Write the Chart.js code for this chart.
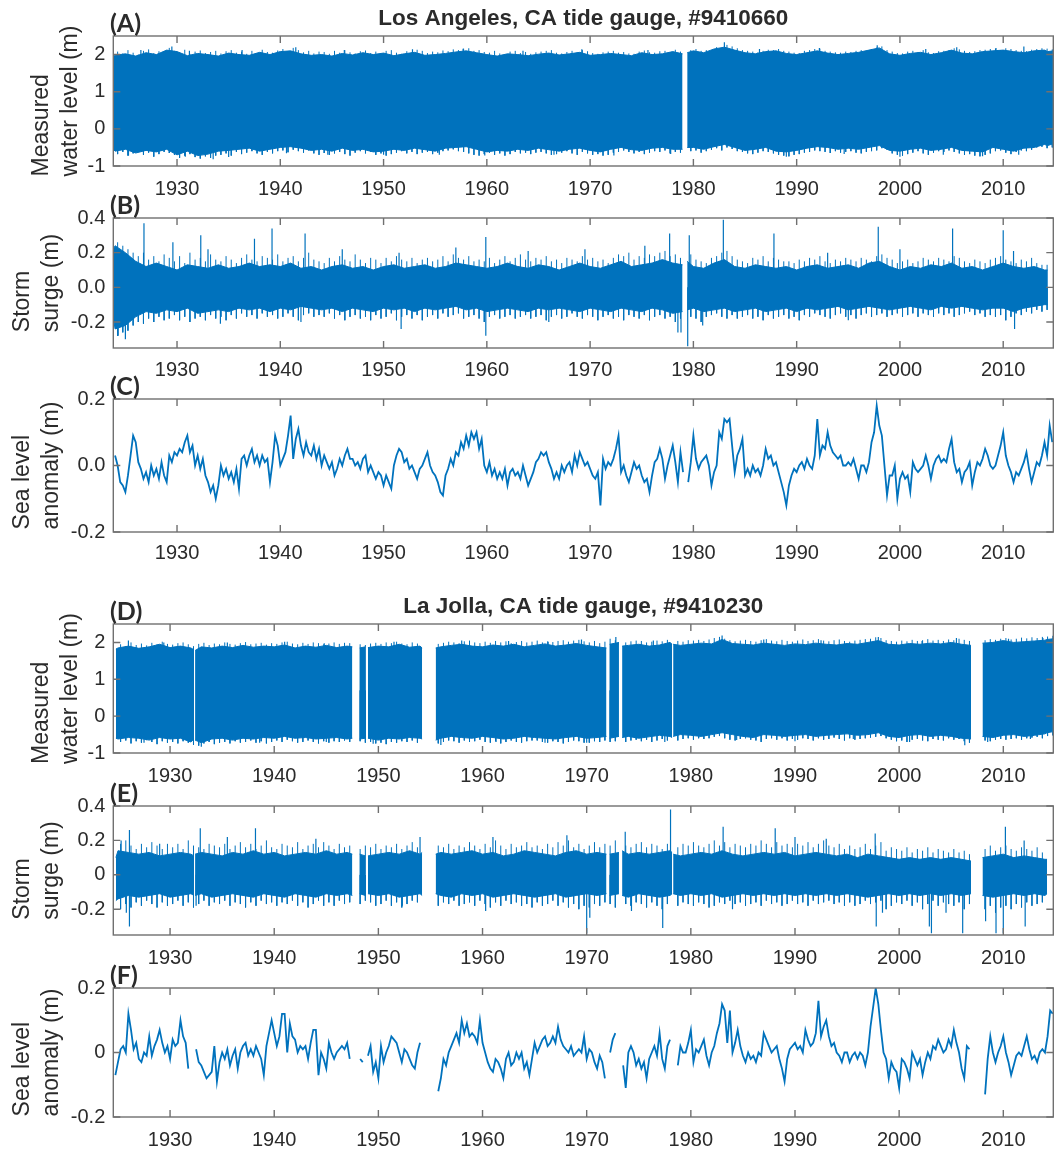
<!DOCTYPE html>
<html><head><meta charset="utf-8">
<script src="https://cdn.jsdelivr.net/npm/chart.js@4/dist/chart.umd.min.js"></script>
<style>
html,body{margin:0;padding:0;background:#fff;}
#wrap{position:relative;width:1056px;height:1153px;overflow:hidden;background:#fff;}
#wrap canvas{position:absolute;left:0;}
</style></head><body><div id="wrap"></div>
<script>
// ---------- tick labels ----------
const xTicks = [1930, 1940, 1950, 1960, 1970, 1980, 1990, 2000, 2010];
const xTickLabels = ['1930', '1940', '1950', '1960', '1970', '1980', '1990', '2000', '2010'];
const waterYTicks = [-1, 0, 1, 2];
const waterYLabels = ['-1', '0', '1', '2'];
const surgeYTicks = [-0.2, 0, 0.2, 0.4];
const laSurgeYLabels = ['-0.2', '0.0', '0.2', '0.4'];
const ljSurgeYLabels = ['-0.2', '0', '0.2', '0.4'];
const anomYTicks = [-0.2, 0, 0.2];
const laAnomYLabels = ['-0.2', '0.0', '0.2'];
const ljAnomYLabels = ['-0.2', '0', '0.2'];

function range(a, b) { const r = []; for (let y = a; y <= b; y++) r.push(y); return r; }

// ---------- Los Angeles: dense record envelopes (upper / lower), yearly ----------
const laDenseT = [1923.85, ...range(1924, 1978), 1978.95, 1979.0, 1979.4, ...range(1980, 2014), 2014.3, 2014.85];
const laWaterHi = [1.95,
  1.98, 2.02, 1.96, 2.05, 2.0, 2.12, 2.08, 1.97, 2.03, 2.0,
  1.96, 2.04, 2.0, 1.98, 2.06, 2.0, 2.08, 2.1, 2.02, 1.98,
  2.0, 1.96, 2.03, 1.99, 2.05, 2.0, 2.04, 1.97, 2.02, 2.06,
  1.98, 2.0, 2.03, 2.07, 2.1, 2.05, 2.0, 1.96, 2.02, 2.0,
  1.97, 2.01, 2.04, 1.99, 2.02, 2.06, 1.98, 2.0, 2.03, 2.0,
  1.97, 2.05, 2.0, 2.02, 2.08,
  2.02, null, 2.05,
  2.1, 2.05, 2.15, 2.2, 2.12, 2.05, 2.02, 2.08, 2.1, 2.03,
  2.0, 2.05, 2.1, 2.04, 2.0, 2.03, 2.06, 2.12, 2.18, 2.02,
  1.98, 2.03, 2.06, 2.0, 2.05, 2.12, 2.04, 2.02, 2.08, 2.1,
  2.12, 2.08, 2.05, 2.1, 2.12,
  2.08, 2.1];
const laWaterLo = [-0.55,
  -0.6, -0.55, -0.65, -0.58, -0.62, -0.55, -0.7, -0.6, -0.72, -0.68,
  -0.6, -0.58, -0.55, -0.52, -0.6, -0.55, -0.5, -0.48, -0.52, -0.58,
  -0.55, -0.6, -0.52, -0.58, -0.55, -0.62, -0.6, -0.55, -0.58, -0.52,
  -0.56, -0.6, -0.52, -0.5, -0.48, -0.55, -0.62, -0.58, -0.6, -0.55,
  -0.58, -0.52, -0.56, -0.6, -0.55, -0.52, -0.58, -0.62, -0.55, -0.5,
  -0.56, -0.58, -0.52, -0.5, -0.55,
  -0.55, null, -0.5,
  -0.5, -0.55, -0.48, -0.42, -0.5, -0.58, -0.55, -0.5, -0.6, -0.62,
  -0.58, -0.52, -0.48, -0.5, -0.55, -0.52, -0.55, -0.5, -0.45, -0.58,
  -0.6, -0.55, -0.52, -0.58, -0.55, -0.5, -0.58, -0.6, -0.62, -0.5,
  -0.55, -0.6, -0.52, -0.5, -0.42,
  -0.45, -0.4];
const laWaterPeakT = [1926.5, 1929.5, 1931.2, 1936.3, 1941.5, 1946.2, 1952.8, 1957.7, 1963.5, 1969.2, 1975.6, 1983.0, 1986.4, 1992.2, 1997.8, 2002.5, 2005.5, 2009.3, 2012.0];
const laWaterPeakV = [2.12, 2.22, 2.1, 2.12, 2.2, 2.12, 2.14, 2.16, 2.1, 2.14, 2.12, 2.33, 2.15, 2.18, 2.25, 2.15, 2.2, 2.18, 2.22];
const laWaterDipT = [1925.3, 1930.8, 1933.5, 1935.0, 1940.6, 1944.6, 1950.0, 1955.4, 1959.8, 1966.5, 1972.3, 1977.8, 1989.0, 1994.6, 2000.0, 2004.2, 2008.0, 2011.5];
const laWaterDipV = [-0.72, -0.75, -0.82, -0.76, -0.66, -0.7, -0.7, -0.7, -0.72, -0.7, -0.72, -0.68, -0.75, -0.68, -0.75, -0.7, -0.74, -0.7];

// hair tips along the band edges, every half year from 1924.25
const laHairStart = 1924.25;
const laWaterHairHi = [
  2.08, 2.03, 2.12, 2.05, 2.0, 2.1, 2.14, 2.04, 2.09, 2.02,
  2.18, 2.1, 2.06, 2.13, 2.02, 2.08, 2.11, 2.04, 2.07, 2.1,
  2.03, 2.09, 2.12, 2.05, 2.08, 2.02, 2.1, 2.04, 2.13, 2.07,
  2.05, 2.11, 2.15, 2.08, 2.18, 2.12, 2.06, 2.1, 2.03, 2.08,
  2.07, 2.02, 2.1, 2.05, 2.12, 2.06, 2.03, 2.09, 2.11, 2.04,
  2.08, 2.03, 2.1, 2.12, 2.05, 2.02, 2.09, 2.06, 2.13, 2.1,
  2.04, 2.08, 2.06, 2.11, 2.09, 2.14, 2.12, 2.16, 2.17, 2.1,
  2.12, 2.07, 2.05, 2.1, 2.03, 2.01, 2.08, 2.1, 2.04, 2.07,
  2.02, 2.06, 2.08, 2.1, 2.12, 2.05, 2.03, 2.07, 2.1, 2.06,
  2.12, 2.09, 2.04, 2.02, 2.06, 2.08, 2.1, 2.05, 2.07, 2.03,
  2.02, 2.08, 2.11, 2.06, 2.05, 2.09, 2.1, 2.07, 2.13, 2.08,
  null, 2.12, 2.15, 2.1, 2.12, 2.08, 2.2, 2.16, 2.26, 2.22,
  2.17, 2.12, 2.1, 2.08, 2.06, 2.1, 2.13, 2.12, 2.15, 2.1,
  2.08, 2.05, 2.04, 2.1, 2.12, 2.15, 2.16, 2.1, 2.08, 2.06,
  2.05, 2.08, 2.07, 2.1, 2.12, 2.08, 2.15, 2.19, 2.22, 2.12,
  2.08, 2.04, 2.03, 2.08, 2.1, 2.07, 2.12, 2.06, 2.04, 2.09,
  2.1, 2.12, 2.17, 2.14, 2.1, 2.07, 2.09, 2.12, 2.13, 2.15,
  2.16, 2.12, 2.17, 2.15, 2.12, 2.1, 2.09, 2.13, 2.15, 2.17,
  2.16, 2.14];
const laWaterHairLo = [
  -0.68, -0.62, -0.72, -0.66, -0.6, -0.7, -0.64, -0.75, -0.68, -0.62,
  -0.65, -0.7, -0.78, -0.72, -0.68, -0.76, -0.8, -0.74, -0.78, -0.72,
  -0.7, -0.66, -0.72, -0.62, -0.68, -0.64, -0.6, -0.66, -0.7, -0.62,
  -0.66, -0.6, -0.58, -0.63, -0.56, -0.6, -0.64, -0.58, -0.66, -0.7,
  -0.65, -0.7, -0.66, -0.62, -0.68, -0.72, -0.64, -0.6, -0.66, -0.62,
  -0.7, -0.66, -0.72, -0.68, -0.64, -0.6, -0.66, -0.62, -0.68, -0.64,
  -0.62, -0.68, -0.64, -0.6, -0.58, -0.55, -0.6, -0.62, -0.66, -0.7,
  -0.72, -0.68, -0.64, -0.7, -0.66, -0.72, -0.68, -0.62, -0.66, -0.64,
  -0.68, -0.64, -0.62, -0.66, -0.7, -0.68, -0.64, -0.6, -0.66, -0.7,
  -0.62, -0.66, -0.7, -0.68, -0.72, -0.7, -0.64, -0.62, -0.58, -0.62,
  -0.66, -0.62, -0.68, -0.64, -0.6, -0.62, -0.58, -0.66, -0.62, -0.64,
  null, -0.6, -0.58, -0.64, -0.6, -0.56, -0.52, -0.58, -0.5, -0.54,
  -0.6, -0.62, -0.66, -0.68, -0.64, -0.6, -0.62, -0.66, -0.7, -0.72,
  -0.74, -0.7, -0.68, -0.64, -0.62, -0.58, -0.6, -0.62, -0.65, -0.6,
  -0.64, -0.62, -0.6, -0.64, -0.66, -0.62, -0.6, -0.58, -0.52, -0.56,
  -0.66, -0.7, -0.72, -0.68, -0.64, -0.6, -0.66, -0.7, -0.64, -0.6,
  -0.62, -0.58, -0.62, -0.66, -0.7, -0.68, -0.72, -0.74, -0.7, -0.66,
  -0.6, -0.58, -0.64, -0.68, -0.62, -0.58, -0.6, -0.56, -0.5, -0.48,
  -0.52, -0.5];

const laSurgeHi = [0.22,
  0.24, 0.2, 0.15, 0.12, 0.14, 0.12, 0.1, 0.13, 0.12, 0.11,
  0.13, 0.11, 0.12, 0.14, 0.12, 0.13, 0.12, 0.14, 0.11, 0.12,
  0.1, 0.12, 0.13, 0.11, 0.12, 0.1, 0.12, 0.13, 0.11, 0.12,
  0.13, 0.11, 0.12, 0.14, 0.13, 0.12, 0.11, 0.12, 0.14, 0.12,
  0.11, 0.13, 0.12, 0.1, 0.12, 0.14, 0.12, 0.11, 0.13, 0.15,
  0.12, 0.13, 0.14, 0.16, 0.14,
  0.13, null, 0.15,
  0.12, 0.11, 0.14, 0.16, 0.12, 0.11, 0.13, 0.12, 0.11, 0.12,
  0.1, 0.12, 0.13, 0.11, 0.12, 0.13, 0.11, 0.14, 0.15, 0.12,
  0.1, 0.12, 0.11, 0.13, 0.12, 0.14, 0.11, 0.12, 0.1, 0.12,
  0.14, 0.12, 0.11, 0.12, 0.1,
  0.1, null];
const laSurgeLo = [-0.18,
  -0.24, -0.22, -0.17, -0.14, -0.15, -0.13, -0.14, -0.12, -0.15, -0.14,
  -0.13, -0.14, -0.12, -0.13, -0.12, -0.14, -0.12, -0.13, -0.11, -0.12,
  -0.13, -0.12, -0.14, -0.12, -0.13, -0.14, -0.12, -0.13, -0.12, -0.14,
  -0.12, -0.13, -0.12, -0.11, -0.13, -0.12, -0.14, -0.13, -0.12, -0.13,
  -0.14, -0.12, -0.13, -0.12, -0.13, -0.14, -0.12, -0.13, -0.14, -0.12,
  -0.13, -0.14, -0.12, -0.13, -0.15,
  -0.14, null, -0.13,
  -0.12, -0.14, -0.13, -0.12, -0.14, -0.13, -0.12, -0.14, -0.13, -0.12,
  -0.14, -0.12, -0.13, -0.12, -0.11, -0.13, -0.12, -0.11, -0.12, -0.13,
  -0.12, -0.11, -0.12, -0.13, -0.11, -0.12, -0.11, -0.12, -0.13, -0.12,
  -0.12, -0.14, -0.12, -0.11, -0.1,
  -0.1, null];
const laSurgePeakT = [1926.8, 1929.6, 1932.3, 1933.0, 1937.5, 1939.2, 1942.4, 1946.0, 1951.5, 1957.0, 1959.9, 1964.0, 1969.5, 1975.3, 1977.7, 1979.6, 1982.9, 1987.8, 1993.0, 1997.9, 2000.0, 2005.1, 2010.0, 2011.0];
const laSurgePeakV = [0.37, 0.26, 0.3, 0.22, 0.28, 0.34, 0.31, 0.22, 0.2, 0.23, 0.29, 0.21, 0.22, 0.24, 0.31, 0.3, 0.39, 0.31, 0.2, 0.35, 0.22, 0.34, 0.33, 0.21];
const laSurgeDipT = [1924.3, 1925.0, 1934.2, 1942.0, 1951.7, 1959.9, 1966.0, 1978.5, 1978.8, 1979.45, 1980.9, 1995.0, 2011.1];
const laSurgeDipV = [-0.28, -0.3, -0.21, -0.2, -0.24, -0.28, -0.2, -0.26, -0.26, -0.34, -0.22, -0.19, -0.24];
const laSurgeHairHi = [
  0.26, 0.24, 0.22, 0.2, 0.18, 0.2, 0.16, 0.18, 0.15, 0.19,
  0.17, 0.15, 0.18, 0.14, 0.2, 0.16, 0.17, 0.15, 0.19, 0.16,
  0.15, 0.18, 0.16, 0.14, 0.17, 0.19, 0.16, 0.15, 0.18, 0.17,
  0.16, 0.19, 0.15, 0.17, 0.18, 0.15, 0.17, 0.2, 0.16, 0.15,
  0.14, 0.17, 0.15, 0.18, 0.16, 0.15, 0.19, 0.16, 0.14, 0.17,
  0.16, 0.14, 0.17, 0.15, 0.18, 0.16, 0.15, 0.17, 0.14, 0.16,
  0.17, 0.15, 0.16, 0.18, 0.15, 0.19, 0.17, 0.16, 0.18, 0.15,
  0.16, 0.15, 0.17, 0.14, 0.16, 0.18, 0.15, 0.17, 0.19, 0.16,
  0.15, 0.17, 0.16, 0.18, 0.15, 0.16, 0.14, 0.17, 0.16, 0.15,
  0.18, 0.16, 0.17, 0.15, 0.16, 0.14, 0.17, 0.19, 0.18, 0.2,
  0.16, 0.18, 0.17, 0.19, 0.18, 0.2, 0.21, 0.18, 0.19, 0.17,
  null, 0.19, 0.16, 0.15, 0.14, 0.17, 0.18, 0.2, 0.21, 0.18,
  0.16, 0.15, 0.14, 0.17, 0.16, 0.18, 0.15, 0.17, 0.16, 0.15,
  0.15, 0.14, 0.16, 0.15, 0.17, 0.16, 0.18, 0.15, 0.14, 0.16,
  0.15, 0.17, 0.16, 0.15, 0.17, 0.16, 0.15, 0.18, 0.19, 0.17,
  0.16, 0.14, 0.15, 0.16, 0.14, 0.15, 0.17, 0.16, 0.15, 0.17,
  0.16, 0.15, 0.18, 0.17, 0.15, 0.14, 0.16, 0.15, 0.14, 0.16,
  0.17, 0.18, 0.16, 0.15, 0.14, 0.16, 0.15, 0.17, 0.14, 0.13,
  0.13, null];
const laSurgeHairLo = [
  -0.28, -0.26, -0.25, -0.22, -0.2, -0.21, -0.18, -0.2, -0.17, -0.19,
  -0.18, -0.16, -0.19, -0.17, -0.2, -0.18, -0.17, -0.19, -0.16, -0.18,
  -0.17, -0.19, -0.16, -0.18, -0.15, -0.17, -0.16, -0.18, -0.15, -0.17,
  -0.16, -0.18, -0.17, -0.15, -0.17, -0.19, -0.16, -0.15, -0.17, -0.16,
  -0.17, -0.15, -0.18, -0.16, -0.19, -0.17, -0.16, -0.18, -0.17, -0.19,
  -0.16, -0.18, -0.17, -0.15, -0.19, -0.17, -0.16, -0.18, -0.16, -0.19,
  -0.17, -0.16, -0.18, -0.15, -0.17, -0.16, -0.15, -0.18, -0.17, -0.16,
  -0.18, -0.2, -0.17, -0.16, -0.18, -0.17, -0.16, -0.18, -0.17, -0.16,
  -0.18, -0.17, -0.16, -0.19, -0.17, -0.16, -0.18, -0.17, -0.15, -0.17,
  -0.18, -0.16, -0.17, -0.19, -0.17, -0.16, -0.18, -0.17, -0.19, -0.16,
  -0.17, -0.18, -0.16, -0.19, -0.17, -0.16, -0.18, -0.17, -0.2, -0.18,
  null, -0.17, -0.18, -0.2, -0.17, -0.16, -0.15, -0.17, -0.18, -0.16,
  -0.18, -0.17, -0.16, -0.18, -0.17, -0.19, -0.16, -0.18, -0.17, -0.16,
  -0.18, -0.17, -0.19, -0.16, -0.17, -0.15, -0.16, -0.17, -0.18, -0.16,
  -0.15, -0.17, -0.16, -0.18, -0.16, -0.15, -0.17, -0.16, -0.15, -0.17,
  -0.16, -0.15, -0.17, -0.16, -0.15, -0.17, -0.15, -0.16, -0.17, -0.15,
  -0.16, -0.15, -0.17, -0.16, -0.15, -0.14, -0.16, -0.15, -0.17, -0.16,
  -0.17, -0.16, -0.19, -0.17, -0.15, -0.16, -0.14, -0.15, -0.13, -0.14,
  -0.13, null];

// ---------- Los Angeles: sea level anomaly, quarterly from 1924.0 ----------
const anomStep = 0.25;
const laAnomStart = 1924.0;
const laAnom = [
  0.03, 0.0, -0.05, -0.06,   -0.08, -0.03, 0.03, 0.09,   0.07, 0.01, -0.01, -0.04,   -0.02, -0.05, 0.0, -0.03,
  -0.01, -0.04, 0.01, -0.03, -0.05, 0.03, 0.01, 0.04,    0.03, 0.05, 0.04, 0.07,     0.09, 0.04, 0.06, 0.0,
  0.03, -0.01, 0.02, -0.03,  -0.05, -0.08, -0.06, -0.1,  -0.06, 0.0, -0.03, -0.01,   -0.04, -0.02, -0.05, -0.01,
  -0.07, 0.02, 0.03, 0.0,    0.03, 0.05, 0.01, 0.03,     0.0, 0.03, 0.01, 0.02,      -0.05, 0.01, 0.09, 0.06,
  0.0, 0.02, 0.04, 0.09,     0.15, 0.02, 0.08, 0.11,     0.06, 0.03, 0.07, 0.04,     0.03, 0.06, 0.02, 0.05,
  0.0, 0.03, 0.01, -0.01,    0.01, -0.03, -0.01, 0.02,   0.0, 0.03, 0.05, 0.02,      0.02, 0.0, 0.01, -0.01,
  0.02, 0.03, -0.02, 0.0,    -0.02, -0.04, -0.02, -0.03, -0.06, -0.03, -0.05, -0.07, 0.0, 0.03, 0.05, 0.04,
  0.01, 0.02, -0.01, 0.0,    -0.02, -0.04, -0.01, 0.0,   0.02, 0.04, 0.0, -0.02,     -0.03, -0.05, -0.08, -0.09,
  -0.03, -0.01, 0.02, 0.0,   0.04, 0.03, 0.07, 0.05,     0.09, 0.06, 0.1, 0.08,      0.1, 0.05, 0.08, 0.0,
  -0.02, 0.01, -0.03, -0.01, -0.04, -0.02, -0.04, -0.01, -0.06, -0.02, -0.01, -0.03, -0.02, -0.04, 0.0, -0.03,
  -0.06, -0.04, -0.02, 0.01, 0.02, 0.04, 0.03, 0.04,     0.01, -0.01, -0.04, -0.02,  -0.04, 0.0, -0.02, 0.0,
  0.01, -0.02, 0.03, 0.0,    0.04, 0.02, 0.0, 0.01,
  -0.01, -0.03, -0.04, -0.02, -0.12, 0.02, -0.01, 0.01,  0.0, 0.02, 0.05, 0.09,      -0.02, 0.0, -0.03, -0.05,
  -0.02, 0.01, -0.01, 0.0,   -0.03, -0.05, -0.04, -0.08, -0.03, 0.01, 0.02, 0.05,    0.02, -0.04, 0.0, 0.03,
  0.06, 0.01, -0.05, 0.04,   -0.02, null, -0.05, 0.01,   0.09, 0.02, -0.01, 0.01,    0.02, 0.03, 0.0, -0.06,
  -0.02, 0.0, 0.1, 0.08,     0.14, 0.13, 0.14, 0.06,     -0.02, 0.03, 0.05, 0.08,    -0.03, -0.01, -0.03, 0.0,
  -0.02, -0.01, -0.03, 0.0,  0.05, 0.02, 0.03, 0.0,      0.01, -0.02, -0.05, -0.08,  -0.12, -0.06, -0.03, -0.01,
  -0.02, 0.0, 0.01, -0.01,   0.02, 0.0, -0.01, 0.03,     0.14, 0.03, 0.06, 0.05,     0.1, 0.06, 0.04, 0.03,
  0.02, 0.03, 0.0, 0.0,      0.01, 0.0, 0.02, -0.01,     -0.04, 0.0, 0.0, -0.02,     0.01, 0.07, 0.1, 0.18,
  0.12, 0.09, 0.0, -0.09,    -0.03, -0.03, 0.0, -0.1,    -0.04, -0.02, -0.04, -0.03, -0.08, 0.01, -0.01, -0.02,
  -0.01, 0.0, 0.03, 0.0,     -0.04, 0.0, 0.02, 0.03,     0.01, 0.02, 0.01, 0.05,     0.08, 0.01, -0.02, -0.01,
  -0.05, -0.02, -0.01, 0.01, -0.06, -0.02, 0.01, 0.0,    0.02, 0.05, 0.03, 0.0,      -0.01, 0.0, 0.03, 0.06,
  0.1, 0.03, 0.0, -0.02,     -0.05, -0.02, -0.03, -0.01, 0.01, 0.04, -0.01, -0.05,   -0.02, 0.01, 0.0, 0.03,
  0.07, 0.03, 0.12, 0.07
];

// ---------- La Jolla: dense record envelopes, yearly plus gap edges ----------
const ljDenseT = [1924.8, ...range(1925, 1932), 1932.3, 1932.35, 1932.4, ...range(1933, 1947), 1947.5, 1947.55,
  1948.2, 1948.75, 1948.8, 1949.0, ...range(1950, 1954), 1954.2, 1954.3, 1955.5, ...range(1956, 1971), 1971.9, 1972.0,
  1972.2, 1973.1, 1973.2, 1973.4, ...range(1974, 1978), 1978.2, 1978.25, 1978.3, ...range(1979, 2006), 2006.9, 2007.0,
  2008.0, ...range(2009, 2014), 2014.2, 2014.8];
const ljWaterHi = [
  1.82, 1.85, 1.9, 1.84, 1.88, 1.95, 1.86, 1.9, 1.85, 1.8,
  null,
  1.78, 1.88, 1.85, 1.9, 1.86, 1.92, 1.87, 1.9, 1.88, 1.93, 1.85, 1.9, 1.87, 1.92, 1.86, 1.9, 1.88,
  null,
  1.85, 1.88,
  null,
  1.86, 1.9, 1.88, 1.95, 1.87, 1.9, 1.85,
  null,
  1.85, 1.88, 1.92, 1.95, 1.9, 1.88, 1.93, 1.9, 1.95, 1.88, 1.92, 1.96, 1.9, 1.93, 1.97, 1.92, 1.88, 1.85,
  null,
  1.95, 2.0,
  null,
  1.9, 1.92, 1.95, 1.9, 1.93, 2.0, 1.95,
  null,
  1.95, 1.92, 1.95, 1.98, 1.96, 2.08, 1.97, 1.95, 1.93, 1.98, 1.95, 1.92, 1.96, 1.94, 1.98,
  1.95, 1.93, 1.97, 1.95, 2.0, 2.05, 1.95, 1.93, 1.97, 1.95, 1.98, 1.96, 2.0, 1.95, 1.92,
  null,
  1.98, 2.0, 2.05, 2.0, 2.02, 2.04, 2.06, 2.08, 2.1];
const ljWaterLo = [
  -0.6, -0.62, -0.58, -0.6, -0.65, -0.58, -0.62, -0.6, -0.7, -0.62,
  null,
  -0.65, -0.72, -0.62, -0.6, -0.65, -0.6, -0.62, -0.58, -0.6, -0.55, -0.6, -0.58, -0.62, -0.6, -0.58, -0.62, -0.6,
  null,
  -0.62, -0.6,
  null,
  -0.6, -0.65, -0.6, -0.62, -0.58, -0.6, -0.62,
  null,
  -0.65, -0.6, -0.55, -0.58, -0.6, -0.55, -0.58, -0.62, -0.6, -0.55, -0.58, -0.6, -0.62, -0.58, -0.55, -0.6, -0.58, -0.55,
  null,
  -0.6, -0.55,
  null,
  -0.58, -0.55, -0.6, -0.56, -0.52, -0.55, -0.58,
  null,
  -0.55, -0.5, -0.52, -0.55, -0.5, -0.45, -0.5, -0.55, -0.58, -0.5, -0.52, -0.55, -0.52, -0.5, -0.55,
  -0.52, -0.5, -0.48, -0.52, -0.5, -0.45, -0.55, -0.58, -0.52, -0.5, -0.55, -0.52, -0.55, -0.6, -0.62,
  null,
  -0.55, -0.58, -0.52, -0.5, -0.55, -0.52, -0.48, -0.45, -0.42];
const ljWaterPeakT = [1926.0, 1929.4, 1935.5, 1941.0, 1944.8, 1951.5, 1958.0, 1962.5, 1966.3, 1969.5, 1972.8, 1976.4, 1983.0, 1987.0, 1992.5, 1998.0, 2002.2, 2005.5, 2010.5, 2013.8];
const ljWaterPeakV = [2.05, 2.0, 2.0, 2.02, 1.98, 2.02, 2.05, 2.04, 2.02, 2.08, 2.15, 2.05, 2.19, 2.08, 2.06, 2.15, 2.04, 2.12, 2.1, 2.12];
const ljWaterDipT = [1927.5, 1933.0, 1938.6, 1945.0, 1949.5, 1956.0, 1961.3, 1966.0, 1970.0, 1977.5, 1984.4, 1990.0, 1995.6, 2001.0, 2006.3, 2008.5, 2012.6];
const ljWaterDipV = [-0.72, -0.83, -0.72, -0.7, -0.75, -0.78, -0.7, -0.72, -0.72, -0.7, -0.65, -0.68, -0.62, -0.7, -0.79, -0.7, -0.62];

const ljHairStart = 1925.25;
const ljWaterHairHi = [
  1.95, 1.9, 2.0, 1.93, 1.97, 1.92, 1.99, 1.95, 2.02, 1.96,
  1.94, 1.98, 2.0, 1.95, 1.9, 1.96, 1.99, 1.93, 1.97, 1.95,
  2.0, 1.96, 1.94, 1.98, 2.01, 1.95, 1.97, 1.99, 1.94, 1.98,
  1.96, 2.0, 2.02, 1.97, 1.95, 1.99, 1.96, 2.0, 1.98, 1.95,
  1.97, 2.0, 1.96, 1.99, 1.98, null, 1.95, 1.93, 1.97, 1.99,
  1.96, 2.0, 1.98, 2.02, 1.97, 1.95, 2.0, 1.97, null, null,
  null, 1.96, 1.99, 2.02, 2.0, 1.98, 2.03, 2.05, 2.0, 1.98,
  2.02, 1.99, 2.04, 2.0, 2.03, 1.98, 2.01, 2.04, 2.0, 2.02,
  2.05, 2.0, 2.03, 2.01, 2.04, 2.06, 2.02, 2.05, 2.07, 2.03,
  2.0, 2.04, 1.98, 2.02, 2.1, 2.06, null, 2.0, 2.03, 2.05,
  2.04, 2.0, 2.02, 2.05, 2.03, 2.07, null, 2.04, 2.02, 2.06,
  2.05, 2.07, 2.04, 2.08, 2.12, 2.15, 2.1, 2.06, 2.03, 2.05,
  2.07, 2.04, 2.02, 2.06, 2.09, 2.05, 2.03, 2.07, 2.04, 2.02,
  2.05, 2.08, 2.04, 2.06, 2.09, 2.05, 2.03, 2.06, 2.08, 2.04,
  2.02, 2.05, 2.07, 2.09, 2.1, 2.14, 2.12, 2.06, 2.04, 2.02,
  2.05, 2.03, 2.07, 2.04, 2.06, 2.09, 2.05, 2.07, 2.04, 2.08,
  2.06, 2.1, 2.07, 2.04, null, null, 2.06, 2.09, 2.07, 2.1,
  2.12, 2.08, 2.1, 2.13, 2.11, 2.14, 2.12, 2.15, 2.16, 2.18];
const ljWaterHairLo = [
  -0.7, -0.66, -0.74, -0.68, -0.72, -0.65, -0.7, -0.76, -0.68, -0.72,
  -0.7, -0.74, -0.68, -0.72, -0.78, -0.8, -0.74, -0.7, -0.76, -0.72,
  -0.7, -0.74, -0.68, -0.72, -0.7, -0.66, -0.72, -0.68, -0.74, -0.7,
  -0.66, -0.7, -0.64, -0.68, -0.72, -0.7, -0.66, -0.7, -0.74, -0.68,
  -0.72, -0.68, -0.7, -0.66, -0.7, null, -0.68, -0.72, -0.7, -0.74,
  -0.72, -0.76, -0.7, -0.72, -0.68, -0.7, -0.66, -0.72, null, null,
  null, -0.74, -0.7, -0.66, -0.68, -0.72, -0.66, -0.7, -0.68, -0.64,
  -0.7, -0.72, -0.68, -0.74, -0.7, -0.66, -0.7, -0.72, -0.68, -0.66,
  -0.66, -0.7, -0.72, -0.68, -0.7, -0.74, -0.7, -0.66, -0.68, -0.72,
  -0.72, -0.68, -0.7, -0.66, -0.7, -0.68, null, -0.7, -0.66, -0.64,
  -0.68, -0.64, -0.7, -0.66, -0.62, -0.66, null, -0.66, -0.62, -0.6,
  -0.64, -0.6, -0.62, -0.6, -0.56, -0.54, -0.6, -0.64, -0.66, -0.62,
  -0.6, -0.64, -0.66, -0.7, -0.62, -0.6, -0.64, -0.6, -0.66, -0.62,
  -0.64, -0.6, -0.62, -0.66, -0.6, -0.64, -0.62, -0.58, -0.62, -0.66,
  -0.6, -0.64, -0.62, -0.6, -0.58, -0.56, -0.54, -0.6, -0.64, -0.68,
  -0.66, -0.7, -0.64, -0.62, -0.66, -0.68, -0.62, -0.64, -0.66, -0.6,
  -0.64, -0.62, -0.68, -0.72, null, null, -0.66, -0.68, -0.64, -0.62,
  -0.64, -0.62, -0.6, -0.64, -0.6, -0.58, -0.56, -0.6, -0.54, -0.52];

const ljSurgeHi = [
  0.1, 0.14, 0.13, 0.12, 0.13, 0.11, 0.12, 0.13, 0.12, 0.11,
  null,
  0.12, 0.13, 0.12, 0.11, 0.13, 0.12, 0.14, 0.12, 0.13, 0.11, 0.12, 0.13, 0.12, 0.14, 0.12, 0.13, 0.12,
  null,
  0.12, 0.11,
  null,
  0.11, 0.12, 0.13, 0.12, 0.14, 0.12, 0.13,
  null,
  0.12, 0.13, 0.12, 0.13, 0.14, 0.12, 0.13, 0.11, 0.12, 0.14, 0.13, 0.12, 0.11, 0.13, 0.14, 0.12, 0.13, 0.12,
  null,
  0.12, 0.13,
  null,
  0.14, 0.12, 0.13, 0.12, 0.13, 0.14, 0.13,
  null,
  0.12, 0.11, 0.12, 0.13, 0.12, 0.14, 0.12, 0.11, 0.12, 0.13, 0.12, 0.13, 0.11, 0.12, 0.13,
  0.12, 0.11, 0.12, 0.1, 0.12, 0.11, 0.1, 0.09, 0.1, 0.09, 0.1, 0.09, 0.1, 0.09, 0.08,
  null,
  0.1, 0.11, 0.12, 0.1, 0.11, 0.1, 0.09, 0.09, null];
const ljSurgeLo = [
  -0.15, -0.14, -0.12, -0.13, -0.12, -0.11, -0.13, -0.12, -0.11, -0.12,
  null,
  -0.12, -0.11, -0.13, -0.12, -0.11, -0.12, -0.13, -0.11, -0.12, -0.13, -0.11, -0.12, -0.13, -0.11, -0.12, -0.11, -0.12,
  null,
  -0.11, -0.12,
  null,
  -0.11, -0.12, -0.11, -0.13, -0.12, -0.11, -0.12,
  null,
  -0.11, -0.12, -0.13, -0.11, -0.12, -0.11, -0.13, -0.12, -0.11, -0.12, -0.13, -0.12, -0.11, -0.13, -0.12, -0.11, -0.12, -0.11,
  null,
  -0.12, -0.11,
  null,
  -0.12, -0.13, -0.11, -0.12, -0.13, -0.12, -0.11,
  null,
  -0.11, -0.12, -0.11, -0.12, -0.11, -0.13, -0.12, -0.11, -0.12, -0.11, -0.12, -0.11, -0.12, -0.11, -0.12,
  -0.11, -0.12, -0.11, -0.12, -0.13, -0.12, -0.11, -0.12, -0.11, -0.12, -0.11, -0.12, -0.11, -0.12, -0.11,
  null,
  -0.12, -0.13, -0.12, -0.11, -0.12, -0.11, -0.12, -0.11, null];
const ljSurgePeakT = [1925.3, 1926.1, 1929.0, 1932.9, 1935.5, 1938.2, 1944.0, 1954.0, 1961.0, 1968.1, 1973.7, 1978.05, 1983.1, 1988.1, 1990.0, 1993.0, 1997.7, 2010.2, 2012.0];
const ljSurgePeakV = [0.2, 0.26, 0.18, 0.27, 0.22, 0.27, 0.21, 0.22, 0.22, 0.23, 0.25, 0.38, 0.28, 0.27, 0.22, 0.21, 0.24, 0.28, 0.2];
const ljSurgeDipT = [1925.8, 1926.1, 1932.5, 1952.3, 1960.3, 1970.0, 1970.3, 1974.3, 1977.3, 1984.0, 1997.8, 1998.4, 2002.9, 2003.1, 2004.5, 2006.1, 2008.3, 2009.3, 2010.0, 2012.1];
const ljSurgeDipV = [-0.22, -0.3, -0.18, -0.18, -0.21, -0.34, -0.25, -0.21, -0.31, -0.2, -0.3, -0.22, -0.3, -0.34, -0.22, -0.34, -0.27, -0.34, -0.34, -0.3];
const ljSurgeHairHi = [
  0.18, 0.2, 0.17, 0.15, 0.18, 0.16, 0.19, 0.17, 0.15, 0.18,
  0.16, 0.18, 0.15, 0.2, 0.17, 0.16, 0.15, 0.18, 0.17, 0.16,
  0.18, 0.15, 0.17, 0.19, 0.16, 0.18, 0.15, 0.17, 0.2, 0.16,
  0.15, 0.18, 0.17, 0.16, 0.19, 0.15, 0.17, 0.18, 0.16, 0.19,
  0.17, 0.15, 0.18, 0.16, 0.17, null, 0.15, 0.17, 0.16, 0.18,
  0.15, 0.17, 0.16, 0.18, 0.15, 0.17, 0.19, 0.16, null, null,
  null, 0.17, 0.16, 0.18, 0.15, 0.17, 0.16, 0.19, 0.17, 0.15,
  0.18, 0.16, 0.2, 0.17, 0.15, 0.18, 0.16, 0.17, 0.19, 0.16,
  0.17, 0.15, 0.18, 0.16, 0.19, 0.17, 0.2, 0.16, 0.18, 0.15,
  0.17, 0.19, 0.16, 0.18, 0.17, 0.2, null, 0.17, 0.16, 0.18,
  0.19, 0.16, 0.18, 0.17, 0.15, 0.18, null, 0.16, 0.18, 0.17,
  0.19, 0.17, 0.16, 0.18, 0.2, 0.17, 0.19, 0.16, 0.18, 0.17,
  0.16, 0.18, 0.17, 0.2, 0.18, 0.16, 0.19, 0.17, 0.18, 0.16,
  0.18, 0.17, 0.19, 0.16, 0.18, 0.2, 0.17, 0.16, 0.18, 0.15,
  0.17, 0.15, 0.16, 0.18, 0.15, 0.17, 0.19, 0.14, 0.16, 0.15,
  0.14, 0.16, 0.13, 0.15, 0.14, 0.16, 0.13, 0.15, 0.14, 0.13,
  0.15, 0.13, 0.14, 0.12, null, null, 0.15, 0.17, 0.14, 0.16,
  0.17, 0.15, 0.14, 0.16, 0.15, 0.14, 0.16, 0.13, null, null];
const ljSurgeHairLo = [
  -0.2, -0.17, -0.19, -0.16, -0.18, -0.15, -0.17, -0.19, -0.16, -0.18,
  -0.17, -0.15, -0.18, -0.16, -0.19, -0.17, -0.15, -0.18, -0.16, -0.17,
  -0.15, -0.18, -0.16, -0.17, -0.19, -0.16, -0.18, -0.15, -0.17, -0.16,
  -0.18, -0.16, -0.17, -0.15, -0.18, -0.16, -0.19, -0.17, -0.15, -0.18,
  -0.16, -0.18, -0.15, -0.17, -0.16, null, -0.17, -0.15, -0.16, -0.18,
  -0.17, -0.15, -0.18, -0.16, -0.19, -0.17, -0.15, -0.16, null, null,
  null, -0.18, -0.16, -0.17, -0.15, -0.18, -0.17, -0.16, -0.18, -0.15,
  -0.17, -0.19, -0.16, -0.18, -0.15, -0.17, -0.16, -0.18, -0.17, -0.19,
  -0.16, -0.18, -0.17, -0.15, -0.18, -0.16, -0.19, -0.17, -0.2, -0.18,
  -0.19, -0.17, -0.18, -0.16, -0.17, -0.19, null, -0.17, -0.18, -0.16,
  -0.17, -0.19, -0.16, -0.18, -0.2, -0.17, null, -0.18, -0.16, -0.17,
  -0.18, -0.16, -0.17, -0.19, -0.18, -0.16, -0.17, -0.15, -0.17, -0.16,
  -0.18, -0.17, -0.16, -0.18, -0.15, -0.17, -0.16, -0.18, -0.17, -0.15,
  -0.17, -0.16, -0.18, -0.15, -0.17, -0.16, -0.15, -0.17, -0.16, -0.18,
  -0.16, -0.18, -0.17, -0.15, -0.17, -0.16, -0.15, -0.2, -0.18, -0.16,
  -0.17, -0.15, -0.18, -0.16, -0.2, -0.17, -0.15, -0.18, -0.16, -0.17,
  -0.18, -0.16, -0.2, -0.17, null, null, -0.2, -0.18, -0.22, -0.19,
  -0.18, -0.2, -0.17, -0.19, -0.16, -0.18, -0.17, -0.16, null, null];

// ---------- La Jolla: sea level anomaly, quarterly from 1924.0 ----------
const ljAnomStart = 1924.0;
const ljAnom = [
  null, null, null, -0.07,   -0.03, 0.01, 0.02, 0.0,     0.12, 0.07, 0.01, 0.03,     -0.02, -0.03, 0.0, -0.01,
  0.05, -0.01, 0.02, 0.04,   0.07, 0.03, 0.0, 0.02,      -0.02, 0.04, 0.02, 0.03,    0.1, 0.05, 0.03, -0.05,
  null, null, 0.01, -0.03,   -0.04, -0.06, -0.08, -0.07, -0.06, 0.02, -0.09, -0.03,  0.0, -0.02, 0.01, -0.04,
  -0.01, 0.01, -0.05, 0.0,   0.02, 0.03, -0.01, 0.01,    -0.01, 0.02, 0.0, -0.02,    -0.07, 0.02, 0.06, 0.1,
  0.06, 0.02, 0.05, 0.12,    0.12, 0.0, 0.09, 0.05,      0.04, 0.0, 0.02, 0.01,      0.02, -0.02, 0.03, 0.07,
  0.07, -0.07, 0.0, -0.02,   -0.05, 0.03, 0.0, -0.02,    0.0, 0.01, 0.02, 0.01,      0.03, -0.02, null, null,
  null, -0.02, -0.03, null,  -0.01, 0.02, -0.06, -0.03,  -0.08, 0.02, -0.03, 0.0,    0.02, 0.05, 0.04, 0.03,
  0.0, -0.03, 0.01, 0.0,     -0.02, -0.04, -0.05, 0.0,   0.03, null, null, null,     null, null, null, -0.12,
  -0.08, -0.02, -0.04, 0.0,  0.02, 0.04, 0.06, 0.03,     0.1, 0.06, 0.09, 0.05,      0.06, 0.05, 0.03, 0.1,
  0.03, 0.0, -0.03, -0.05,   -0.06, -0.02, -0.03, -0.05, -0.08, -0.02, 0.0, -0.04,   -0.03, 0.0, -0.02, 0.0,
  -0.05, -0.03, -0.07, -0.02, 0.03, 0.0, 0.02, 0.04,     0.05, 0.02, 0.03, 0.05,     0.03, 0.08, 0.04, 0.02,
  0.01, 0.0, 0.02, -0.01,
  0.0, 0.01, 0.0, 0.05,      -0.02, 0.01, 0.0, -0.03,    -0.05, -0.01, -0.03, -0.08, null, 0.0, 0.04, 0.06,
  null, null, -0.04, -0.11,  0.0, 0.02, 0.0, -0.04,      -0.02, -0.05, -0.03, -0.08, -0.02, 0.0, 0.02, -0.01,
  0.06, -0.02, -0.05, 0.02,  0.04, null, null, -0.04,    0.02, 0.0, 0.0, 0.03,       0.07, -0.03, 0.01, 0.0,
  0.02, 0.04, -0.01, -0.04,  0.0, 0.02, 0.06, 0.09,      0.15, 0.13, 0.03, 0.13,     0.0, 0.03, 0.07, 0.02,
  -0.01, -0.03, 0.0, -0.02,  -0.01, -0.03, 0.0, -0.01,   0.06, 0.04, 0.02, 0.0,      0.01, 0.02, -0.02, -0.05,
  -0.09, -0.02, 0.01, 0.02,  0.03, 0.01, 0.02, 0.0,      0.07, 0.04, 0.02, 0.03,     0.06, 0.16, 0.05, 0.08,
  0.1, 0.05, 0.02, 0.03,     0.0, -0.01, -0.03, 0.0,     0.0, -0.03, -0.01, 0.0,     -0.02, 0.0, -0.01, -0.04,
  0.0, 0.08, 0.14, 0.2,      0.15, 0.07, 0.0, -0.02,     -0.08, -0.03, -0.05, -0.06, -0.11, -0.02, -0.03, -0.05,
  -0.08, 0.0, -0.02, -0.04,  -0.02, -0.07, -0.03, 0.0,   -0.02, 0.02, 0.01, 0.04,    0.02, 0.0, 0.01, 0.04,
  0.02, 0.07, 0.03, 0.0,     -0.05, -0.08, 0.02, 0.01,   null, null, null, null,     null, -0.13, -0.02, 0.05,
  0.0, -0.03, 0.0, 0.02,     0.05, 0.0, -0.03, -0.07,    -0.04, -0.01, 0.0, -0.01,   0.02, 0.05, 0.01, -0.02,
  -0.01, -0.03, 0.0, 0.01,   0.0, 0.05, 0.13, 0.12
];

// ---------- styling ----------
const BLUE = '#0072BD';
const INK = '#2b2b2b';
const FRAME = '#707070';
const TICK_FONT = { family: '"Liberation Sans", Arial, sans-serif', size: 20 };
const PLOT_RIGHT = 1053.3, PLOT_LEFT = 113.3, W = 1056;

function pts(t, v) { return t.map((x, i) => ({ x, y: v[i] })); }
function seriesPts(start, v) { return v.map((y, i) => ({ x: start + i * anomStep, y })); }
function spikePts(base, tt, vv) {
  const out = [];
  tt.forEach((x, i) => { out.push({ x, y: base }, { x, y: vv[i] }, { x, y: null }); });
  return out;
}
function hairPts(start, base, vv) {
  const out = [];
  vv.forEach((v, i) => {
    if (v === null) return;
    const x = start + i * 0.5;
    out.push({ x, y: base }, { x, y: v }, { x, y: null });
  });
  return out;
}
function bandSets(t, hi, lo, base, peakT, peakV, dipT, dipV, hairStart, hairHi, hairLo) {
  return [
    { data: pts(t, hi), borderColor: BLUE, borderWidth: 1, pointRadius: 0, fill: false, spanGaps: false },
    { data: pts(t, lo), borderColor: BLUE, borderWidth: 1, pointRadius: 0, backgroundColor: BLUE, fill: '-1', spanGaps: false },
    { data: hairPts(hairStart, base, hairHi).concat(hairPts(hairStart, base, hairLo)), borderColor: BLUE, borderWidth: 1, pointRadius: 0, fill: false, spanGaps: false },
    { data: spikePts(base, peakT, peakV).concat(spikePts(base, dipT, dipV)), borderColor: BLUE, borderWidth: 1.2, pointRadius: 0, fill: false, spanGaps: false }
  ];
}
function lineSets(start, v) {
  return [{ data: seriesPts(start, v), borderColor: BLUE, borderWidth: 1.8, pointRadius: 0, fill: false, spanGaps: false, tension: 0 }];
}

const LA_X = [1923.83, 2014.85], LJ_X = [1924.55, 2014.8];
const panels = [
  { tag: '(A)', title: 'Los Angeles, CA tide gauge, #9410660', top: 36, bottom: 166, xr: LA_X, yr: [-1, 2.5],
    yt: waterYTicks, yl: waterYLabels, ytitle: ['Measured', 'water level (m)'], ytx: [47.5, 76.5], pad: 11,
    sets: bandSets(laDenseT, laWaterHi, laWaterLo, 0.8, laWaterPeakT, laWaterPeakV, laWaterDipT, laWaterDipV, laHairStart, laWaterHairHi, laWaterHairLo) },
  { tag: '(B)', top: 218, bottom: 348, xr: LA_X, yr: [-0.35, 0.4],
    yt: surgeYTicks, yl: laSurgeYLabels, ytitle: ['Storm', 'surge (m)'], ytx: [28.5, 58], pad: 10,
    sets: bandSets(laDenseT, laSurgeHi, laSurgeLo, 0, laSurgePeakT, laSurgePeakV, laSurgeDipT, laSurgeDipV, laHairStart, laSurgeHairHi, laSurgeHairLo) },
  { tag: '(C)', top: 399, bottom: 532, xr: LA_X, yr: [-0.2, 0.2],
    yt: anomYTicks, yl: laAnomYLabels, ytitle: ['Sea level', 'anomaly (m)'], ytx: [28.5, 58], pad: 9,
    sets: lineSets(laAnomStart, laAnom) },
  { tag: '(D)', title: 'La Jolla, CA tide gauge, #9410230', top: 624, bottom: 753, xr: LJ_X, yr: [-1, 2.5],
    yt: waterYTicks, yl: waterYLabels, ytitle: ['Measured', 'water level (m)'], ytx: [47.5, 76.5], pad: 11,
    sets: bandSets(ljDenseT, ljWaterHi, ljWaterLo, 0.7, ljWaterPeakT, ljWaterPeakV, ljWaterDipT, ljWaterDipV, ljHairStart, ljWaterHairHi, ljWaterHairLo) },
  { tag: '(E)', top: 806, bottom: 935, xr: LJ_X, yr: [-0.35, 0.4],
    yt: surgeYTicks, yl: ljSurgeYLabels, ytitle: ['Storm', 'surge (m)'], ytx: [28.5, 58], pad: 11,
    sets: bandSets(ljDenseT, ljSurgeHi, ljSurgeLo, 0, ljSurgePeakT, ljSurgePeakV, ljSurgeDipT, ljSurgeDipV, ljHairStart, ljSurgeHairHi, ljSurgeHairLo) },
  { tag: '(F)', top: 988, bottom: 1117, xr: LJ_X, yr: [-0.2, 0.2],
    yt: anomYTicks, yl: ljAnomYLabels, ytitle: ['Sea level', 'anomaly (m)'], ytx: [28.5, 58], pad: 11,
    sets: lineSets(ljAnomStart, ljAnom) }
];

function framePlugin(p) {
  return {
    id: 'frame',
    afterDatasetsDraw(chart) {
      const { ctx, chartArea: a } = chart;
      const xs = chart.scales.x, ys = chart.scales.y;
      const TL = 7;
      ctx.save();
      ctx.strokeStyle = FRAME; ctx.lineWidth = 1.4;
      ctx.strokeRect(a.left, a.top, a.right - a.left, a.bottom - a.top);
      ctx.beginPath();
      xs.ticks.forEach(t => {
        const px = xs.getPixelForValue(t.value);
        ctx.moveTo(px, a.bottom); ctx.lineTo(px, a.bottom - TL);
        ctx.moveTo(px, a.top); ctx.lineTo(px, a.top + TL);
      });
      ys.ticks.forEach(t => {
        const py = ys.getPixelForValue(t.value);
        ctx.moveTo(a.left, py); ctx.lineTo(a.left + TL, py);
        ctx.moveTo(a.right, py); ctx.lineTo(a.right - TL, py);
      });
      ctx.stroke();
      ctx.fillStyle = INK;
      ctx.textBaseline = 'alphabetic';
      ctx.font = 'bold 25px Lato, "Open Sans", sans-serif';
      ctx.textAlign = 'left';
      ctx.fillText(p.tag, 110, a.top - 4.5);
      if (p.title) {
        ctx.font = 'bold 22.5px "Liberation Sans", Arial, sans-serif';
        ctx.textAlign = 'center';
        ctx.fillText(p.title, (a.left + a.right) / 2, a.top - 11.5);
      }
      ctx.font = '23px "Liberation Sans", Arial, sans-serif';
      const w = Math.max(...p.ytitle.map(s => ctx.measureText(s).width));
      const cy = (a.top + a.bottom) / 2;
      p.ytitle.forEach((s, i) => {
        ctx.save();
        ctx.translate(p.ytx[i], cy + w / 2);
        ctx.rotate(-Math.PI / 2);
        ctx.textAlign = 'left';
        ctx.fillText(s, 0, 0);
        ctx.restore();
      });
      ctx.restore();
    }
  };
}

const wrap = document.getElementById('wrap');
panels.forEach(p => {
  const cTop = Math.max(0, p.top - 40);
  const cH = p.bottom + 38 - cTop;
  const cv = document.createElement('canvas');
  cv.width = W; cv.height = cH;
  cv.style.top = cTop + 'px';
  cv.style.width = W + 'px'; cv.style.height = cH + 'px';
  wrap.appendChild(cv);
  new Chart(cv, {
    type: 'line',
    data: { datasets: p.sets },
    options: {
      responsive: false, maintainAspectRatio: false, animation: false, devicePixelRatio: 1,
      layout: { padding: { top: p.top - cTop, left: 0, right: W - PLOT_RIGHT, bottom: 0 } },
      plugins: { legend: { display: false }, tooltip: { enabled: false } },
      elements: { line: { tension: 0 } },
      scales: {
        x: {
          type: 'linear', min: p.xr[0], max: p.xr[1],
          grid: { display: false, drawTicks: false }, border: { display: false },
          ticks: { color: INK, font: TICK_FONT, padding: p.pad, maxRotation: 0, autoSkip: false,
                   callback: (v, i) => xTickLabels[i] },
          afterBuildTicks: s => { s.ticks = xTicks.map(v => ({ value: v })); },
          afterFit: s => { s.height = cH - (p.bottom - cTop); }
        },
        y: {
          type: 'linear', min: p.yr[0], max: p.yr[1],
          grid: { display: false, drawTicks: false }, border: { display: false },
          ticks: { color: INK, font: TICK_FONT, padding: 8, autoSkip: false,
                   callback: (v, i) => p.yl[i] },
          afterBuildTicks: s => { s.ticks = p.yt.map(v => ({ value: v })); },
          afterFit: s => { s.width = PLOT_LEFT; }
        }
      }
    },
    plugins: [framePlugin(p)]
  });
});
</script>
</body></html>
